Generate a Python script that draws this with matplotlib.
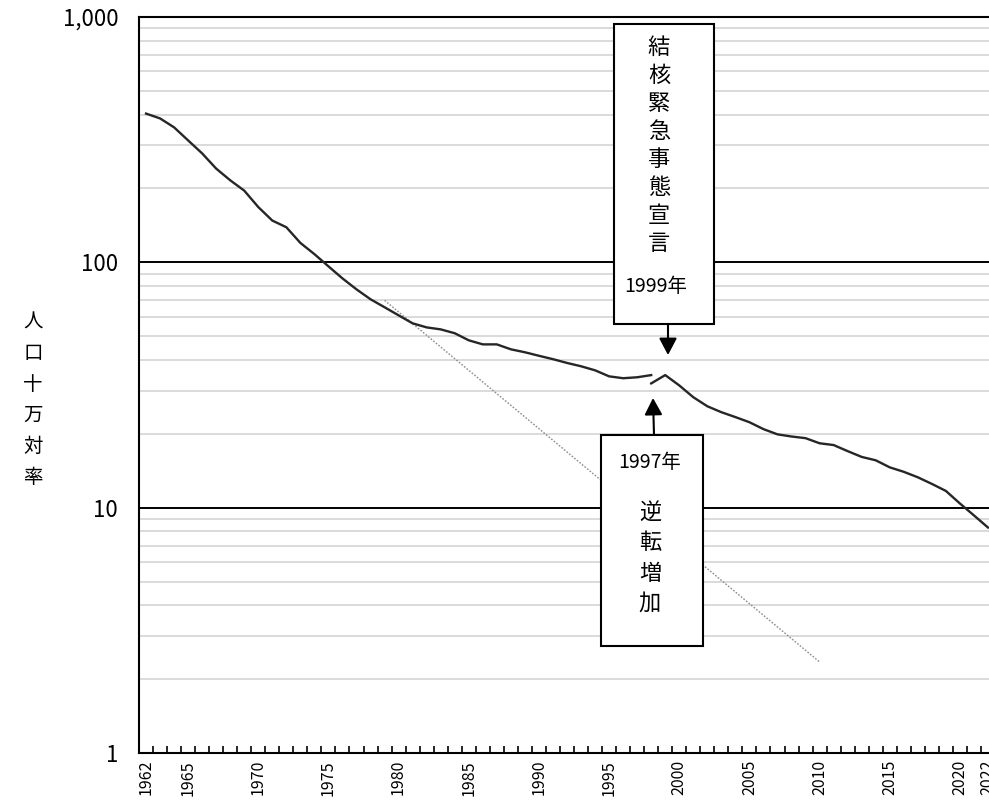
import matplotlib
matplotlib.use("Agg")
import matplotlib.pyplot as plt
import numpy as np
from matplotlib.patches import Rectangle, FancyArrowPatch
from matplotlib.ticker import FixedLocator, NullFormatter, FuncFormatter

plt.rcParams['font.family'] = ['Noto Sans CJK JP', 'DejaVu Sans']

# ---- data ----
years_a = list(range(1962, 1999))
rate_a = [404, 386, 355, 314, 278, 241, 216, 196, 168, 148, 139, 120, 108,
          96.3, 86, 77.6, 70.7, 65.6, 60.8, 56.4, 54.3, 53.3, 51.4, 48.1,
          46.3, 46.3, 44.2, 43.0, 41.6, 40.3, 38.9, 37.7, 36.3, 34.3, 33.7,
          34.0, 34.7]
years_b = list(range(1998, 2023))
rate_b = [32.1, 34.7, 31.5, 28.2, 25.9, 24.5, 23.4, 22.3, 20.9, 19.9, 19.5,
          19.2, 18.3, 18.0, 17.0, 16.1, 15.6, 14.6, 14.0, 13.3, 12.5, 11.7,
          10.4, 9.3, 8.3]
trend_years = [1979, 2010]
trend_rate = [70, 2.35]

tick_years = [1962, 1965, 1970, 1975, 1980, 1985, 1990, 1995, 2000, 2005,
              2010, 2015, 2020, 2022]
y_ticks = [1, 10, 100, 1000]
y_ticklabels = ['1', '10', '100', '1,000']
ylabel_text = '人口十万対率'
box1_title = '結核緊急事態宣言'
box1_year = '1999年'
box2_year = '1997年'
box2_title = '逆転増加'

W, H = 989, 802
fig = plt.figure(figsize=(W / 100, H / 100), dpi=100)

def fx(x):
    return x / W

def fy(y):
    return 1 - y / H

left, right, top, bottom = 139, 995, 17, 753
ax = fig.add_axes([fx(left), fy(bottom), (right - left) / W, (bottom - top) / H])
ax.set_yscale('log')
ax.set_xlim(1961.5, 2022.5)
ax.set_ylim(1, 1000)

# gridlines
ax.yaxis.set_minor_locator(FixedLocator([m * 10 ** d for d in range(3) for m in range(2, 10)]))
ax.yaxis.set_major_locator(FixedLocator(y_ticks))
ax.yaxis.set_major_formatter(FuncFormatter(
    lambda v, p: y_ticklabels[y_ticks.index(int(round(v)))] if int(round(v)) in y_ticks else ''))
ax.yaxis.set_minor_formatter(NullFormatter())
ax.grid(True, which='minor', axis='y', color='#dadada', lw=1.4)
ax.grid(True, which='major', axis='y', color='black', lw=1.4)
ax.set_axisbelow(True)
ax.tick_params(axis='y', which='both', length=0, pad=15, labelsize=16)

ax.xaxis.set_major_locator(FixedLocator(tick_years))
ax.xaxis.set_minor_locator(FixedLocator([y + 0.5 for y in range(1962, 2022)]))
ax.set_xticklabels([str(y) for y in tick_years], rotation=90)
ax.tick_params(axis='x', which='major', length=0, pad=5, labelsize=11.5)
ax.tick_params(axis='x', which='minor', direction='in', length=5, width=1.2, color='black')

for s in ['left', 'bottom', 'top', 'right']:
    ax.spines[s].set_linewidth(1.5)
    ax.spines[s].set_color('black')

ax.plot(trend_years, trend_rate, color='#8c8c8c', lw=1.0, ls=(0, (1.2, 1.2)), zorder=3)
ax.plot(years_a, rate_a, color='#262626', lw=1.7, zorder=4)
ax.plot(years_b, rate_b, color='#262626', lw=1.7, zorder=4)

# y label (vertical stacked characters)
for i, ch in enumerate(ylabel_text):
    fig.text(fx(33), fy(322 + i * 31.2), ch, ha='center', va='center', fontsize=14)

arrow_style = '-|>,head_length=0.85,head_width=0.45'

# annotation box 1
fig.add_artist(Rectangle((fx(614), fy(324)), (714 - 614) / W, (324 - 24) / H,
                         transform=fig.transFigure, facecolor='white',
                         edgecolor='black', lw=1.5, zorder=10))
for i, ch in enumerate(box1_title):
    fig.text(fx(659), fy(47 + i * 28), ch, ha='center', va='center',
             fontsize=16, zorder=11)
fig.text(fx(656), fy(286), box1_year, ha='center', va='center', fontsize=14, zorder=11)
fig.add_artist(FancyArrowPatch(
    (fx(668), fy(324)), (fx(668), fy(355)), transform=fig.transFigure,
    arrowstyle=arrow_style, mutation_scale=12,
    color='black', lw=1.5, shrinkA=0, shrinkB=0, zorder=11))

# annotation box 2
fig.add_artist(Rectangle((fx(601), fy(646)), (703 - 601) / W, (646 - 435) / H,
                         transform=fig.transFigure, facecolor='white',
                         edgecolor='black', lw=1.5, zorder=10))
fig.text(fx(650), fy(463), box2_year, ha='center', va='center', fontsize=14, zorder=11)
for i, ch in enumerate(box2_title):
    fig.text(fx(650), fy(512 + i * 30.5), ch, ha='center', va='center',
             fontsize=16, zorder=11)
fig.add_artist(FancyArrowPatch(
    (fx(654), fy(435)), (fx(653), fy(398)), transform=fig.transFigure,
    arrowstyle=arrow_style, mutation_scale=12,
    color='black', lw=1.5, shrinkA=0, shrinkB=0, zorder=11))

fig.savefig('out.png', dpi=100)
